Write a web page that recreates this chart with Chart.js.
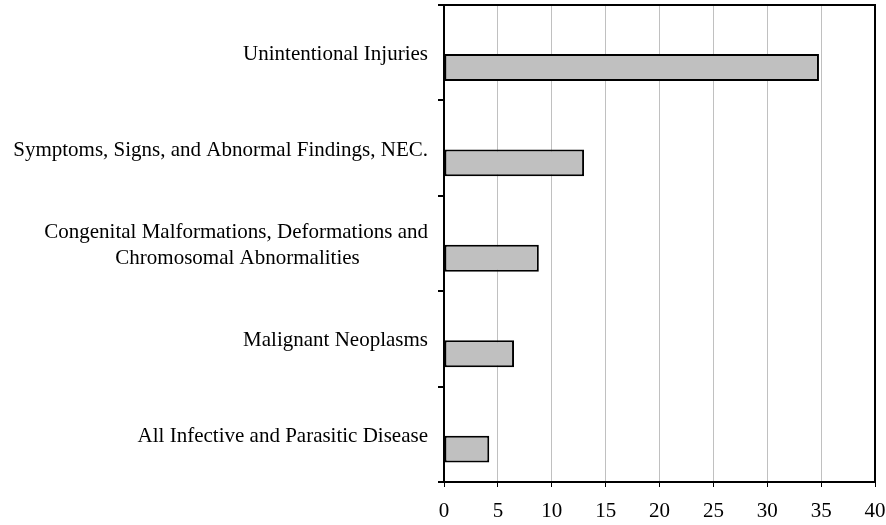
<!DOCTYPE html>
<html>
<head>
<meta charset="utf-8">
<script src="https://cdn.jsdelivr.net/npm/chart.js@4.4.1/dist/chart.umd.min.js"></script>
<style>
  html, body { margin: 0; padding: 0; background: #fff; }
  #wrap { width: 886px; height: 525px; }
</style>
</head>
<body>
<div id="wrap"><canvas id="causes-chart"></canvas></div>
<script>
// Categories, top to bottom (second line of the long one padded so it sits centred under the first)
const causes = [
    'Unintentional Injuries',
    'Symptoms, Signs, and Abnormal Findings, NEC.',
    ['Congenital Malformations, Deformations and', 'Chromosomal Abnormalities' + '\u00a0'.repeat(13)],
    'Malignant Neoplasms',
    'All Infective and Parasitic Disease'
];
// Values
const causeValues = [34.8, 13.0, 8.8, 6.5, 4.2];
// Empty series that the original chart reserves a slot for (pushes bars below the labels)
const emptySeries = [null, null, null, null, null];
const xTicks = [0, 5, 10, 15, 20, 25, 30, 35, 40];

const serif = 'Liberation Serif, Times New Roman, serif';

// Draws the black top and right edges of the plot frame
const frameBorder = {
    id: 'frameBorder',
    afterDraw(chart) {
        const { ctx, chartArea: a } = chart;
        ctx.save();
        ctx.strokeStyle = '#000';
        ctx.lineWidth = 2;
        ctx.beginPath();
        ctx.moveTo(a.left, a.top);
        ctx.lineTo(a.right, a.top);
        ctx.lineTo(a.right, a.bottom);
        ctx.stroke();
        ctx.restore();
    }
};

const ctx = document.getElementById('causes-chart').getContext('2d');
const myChart = new Chart(ctx, {
    type: 'bar',
    data: {
        labels: causes,
        datasets: [{
            label: 'Hidden',
            data: emptySeries,
            backgroundColor: 'rgba(0,0,0,0)'
        }, {
            label: 'Deaths',
            data: causeValues,
            backgroundColor: '#c0c0c0',
            borderColor: '#000',
            borderWidth: 2,
            borderSkipped: false
        }]
    },
    options: {
        indexAxis: 'y',
        responsive: true,
        maintainAspectRatio: false,
        animation: false,
        categoryPercentage: 0.62,
        barPercentage: 0.91,
        layout: { padding: { top: 5, right: 11, bottom: 0, left: 0 } },
        plugins: {
            legend: { display: false },
            tooltip: { enabled: false }
        },
        scales: {
            x: {
                min: 0,
                max: 40,
                afterBuildTicks: scale => { scale.ticks = xTicks.map(v => ({ value: v })); },
                afterFit: scale => {
                    scale.height = 43;
                    scale.paddingLeft = 0;
                    scale.paddingRight = 0;
                },
                grid: { color: '#c0c0c0', lineWidth: 1, tickColor: '#000', tickLength: 5 },
                border: { color: '#000', width: 2 },
                ticks: { color: '#000', padding: 12, maxRotation: 0, font: { family: serif, size: 21 } }
            },
            y: {
                afterFit: scale => {
                    scale.width = 444;
                    scale.paddingTop = 0;
                    scale.paddingBottom = 0;
                },
                grid: { drawOnChartArea: false, offset: true, tickColor: '#000', tickLength: 6, lineWidth: 2 },
                border: { color: '#000', width: 2 },
                ticks: { color: '#000', padding: 10, labelOffset: 2, font: { family: serif, size: 21, lineHeight: 1.2 } }
            }
        }
    },
    plugins: [frameBorder]
});
</script>
</body>
</html>
